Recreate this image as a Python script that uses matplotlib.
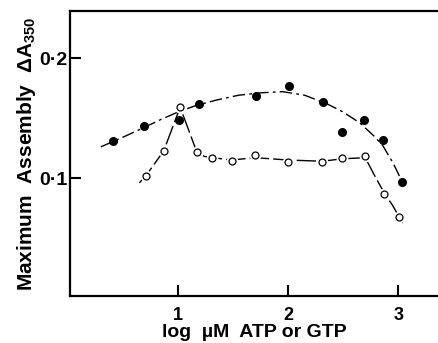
import matplotlib
matplotlib.use("Agg")
import matplotlib.pyplot as plt

plt.rcParams['font.family'] = ['Liberation Sans', 'DejaVu Sans']
plt.rcParams['font.weight'] = 'bold'
plt.rcParams['mathtext.fontset'] = 'custom'
plt.rcParams['mathtext.rm'] = 'Liberation Sans:bold'
plt.rcParams['mathtext.bf'] = 'Liberation Sans:bold'
plt.rcParams['mathtext.it'] = 'Liberation Sans:bold'
plt.rcParams['mathtext.default'] = 'bf'

# Filled circles (ATP)
filled_x = [0.41, 0.69, 1.01, 1.19, 1.71, 2.01, 2.32, 2.49, 2.69, 2.86, 3.03]
filled_y = [0.131, 0.143, 0.148, 0.162, 0.168, 0.177, 0.163, 0.138, 0.148, 0.132, 0.097]
# Open circles (GTP)
open_x = [0.71, 0.87, 1.02, 1.17, 1.31, 1.49, 1.70, 2.00, 2.31, 2.49, 2.70, 2.87, 3.01]
open_y = [0.102, 0.1225, 0.159, 0.122, 0.117, 0.114, 0.119, 0.113, 0.113, 0.117, 0.118, 0.087, 0.0675]

# Hand-drawn fitted curves
fit_filled_x = [0.30, 0.50, 0.69, 0.85, 1.00, 1.15, 1.35, 1.55, 1.75, 1.95, 2.15, 2.35, 2.50, 2.65, 2.78, 2.86, 2.95, 3.02]
fit_filled_y = [0.126, 0.134, 0.142, 0.149, 0.155, 0.160, 0.165, 0.169, 0.171, 0.172, 0.169, 0.162, 0.155, 0.146, 0.135, 0.127, 0.113, 0.100]
fit_open_x = [0.65, 0.71, 0.87, 1.02, 1.17, 1.24, 1.31, 1.49, 1.70, 2.00, 2.31, 2.49, 2.70, 2.78, 2.87, 2.95, 3.04]
fit_open_y = [0.096, 0.102, 0.1225, 0.159, 0.122, 0.118, 0.117, 0.115, 0.117, 0.115, 0.114, 0.116, 0.117, 0.103, 0.088, 0.077, 0.0625]

x_ticks = [1, 2, 3]
x_tick_labels = ['1', '2', '3']
y_ticks = [0.1, 0.2]
y_tick_labels = ['0·1', '0·2']

fig = plt.figure(figsize=(4.39, 3.43), dpi=100)
ax = fig.add_axes([70/439, 1 - 296/343, 1 - 70/439, (296 - 11)/343])

ax.plot(fit_filled_x, fit_filled_y, color='black', lw=1.0, ls=(0, (9, 3, 2, 3)), zorder=2)
ax.plot(fit_open_x, fit_open_y, color='black', lw=1.0, ls=(0, (14, 3)), zorder=2)
# white halos to break the line around open circles
ax.plot(open_x, open_y, ls='none', marker='o', ms=8.5, mfc='white', mec='none', zorder=3)
ax.plot(open_x, open_y, ls='none', marker='o', ms=5, mfc='white', mec='black', mew=0.9, zorder=4)
ax.plot(filled_x, filled_y, ls='none', marker='o', ms=5.5, mfc='black', mec='black', zorder=5)

ax.set_xlim(0.02, 3.37)
ax.set_ylim(0.0017, 0.2392)
ax.set_xticks(x_ticks)
ax.set_xticklabels(x_tick_labels, fontsize=13, fontweight='bold')
ax.set_yticks(y_ticks)
ax.set_yticklabels(y_tick_labels, fontsize=14, fontweight='bold')
ax.tick_params(axis='both', direction='in', length=8, width=1.5)
ax.tick_params(axis='x', pad=8)
ax.tick_params(axis='y', pad=2)

for s in ['left', 'bottom', 'top']:
    ax.spines[s].set_linewidth(1.6)
ax.spines['right'].set_visible(False)

ax.set_xlabel('log  µM  ATP or GTP', fontsize=14, fontweight='bold', labelpad=0)
ax.set_ylabel('Maximum  Assembly  ΔA$_{350}$', fontsize=15, fontweight='bold', labelpad=1)

fig.savefig('out.png', dpi=100)
